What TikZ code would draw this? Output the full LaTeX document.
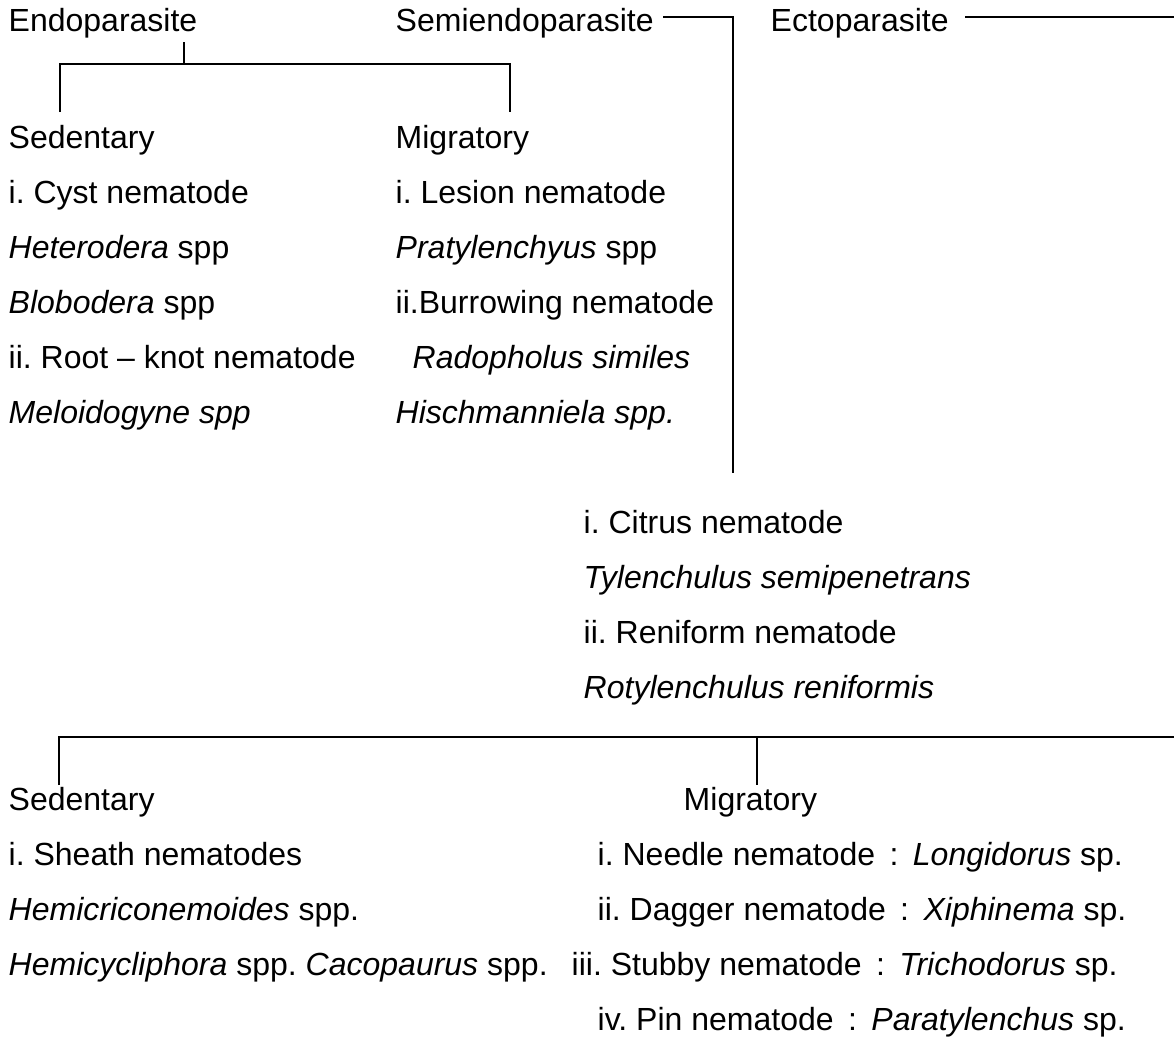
\documentclass[tikz,border=0pt]{standalone}
\usepackage{fontspec}
\setmainfont{Liberation Sans}
\frenchspacing
\tikzset{every picture/.style={line width=1.1pt}}
\tikzset{lbl/.style={anchor=base west, inner sep=0pt, font=\fontsize{24}{28}\selectfont}}
\newcommand{\colsep}{\hspace{0.45em}:\hspace{0.45em}}

\begin{document}
\begin{tikzpicture}[x=0.75pt,y=0.75pt,yscale=-1,xscale=1]
		\path [use as bounding box] (0,0) rectangle (1174,1036); %page frame

		%junction points of the brackets
		\coordinate (endotop) at (184,42);
		\coordinate (endomid) at (184,64);
		\coordinate (endol) at (60,64);
		\coordinate (endor) at (510,64);
		\coordinate (endolb) at (60,112);
		\coordinate (endorb) at (510,112);
		\coordinate (semil) at (663,17);
		\coordinate (semic) at (733,17);
		\coordinate (semib) at (733,473);
		\coordinate (ectol) at (965,17);
		\coordinate (ector) at (1174,17);
		\coordinate (botl) at (59,737);
		\coordinate (botm) at (757,737);
		\coordinate (botr) at (1174,737);
		\coordinate (botlb) at (59,785);
		\coordinate (botmb) at (757,785);

		\draw (endotop) -- (endomid) ;
		\draw (endolb) -- (endol) -- (endor) -- (endorb) ;
		\draw (semil) -- (semic) -- (semib) ;
		\draw (ectol) -- (ector) ;
		\draw (botlb) -- (botl) -- (botr) ;
		\draw (botm) -- (botmb) ;

		%top row
		\draw (8,31) node [lbl] (endo) {Endoparasite};
		\draw (395,31) node [lbl] (semi) {Semiendoparasite};
		\draw (770,31) node [lbl] (ecto) {Ectoparasite};

		%endoparasites
		\draw (8,148) node [lbl] (endosed) {Sedentary};
		\draw (8,203) node [lbl] (cyst) {i. Cyst nematode};
		\draw (8,258) node [lbl] (hetero) {\textit{Heterodera} spp};
		\draw (8,313) node [lbl] (globo) {\textit{Blobodera} spp};
		\draw (8,368) node [lbl] (rootknot) {ii. Root -- knot nematode};
		\draw (8,423) node [lbl] (meloi) {\textit{Meloidogyne spp}};
		\draw (395,148) node [lbl] (endomig) {Migratory};
		\draw (395,203) node [lbl] (lesion) {i. Lesion nematode};
		\draw (395,258) node [lbl] (praty) {\textit{Pratylenchyus} spp};
		\draw (395,313) node [lbl] (burrow) {ii.Burrowing nematode};
		\draw (412,368) node [lbl] (rado) {\textit{Radopholus similes}};
		\draw (395,423) node [lbl] (hisch) {\textit{Hischmanniela spp.}};

		%semiendoparasites
		\draw (583,533) node [lbl] (citrus) {i. Citrus nematode};
		\draw (583,588) node [lbl] (tylen) {\textit{Tylenchulus semipenetrans}};
		\draw (583,643) node [lbl] (reni) {ii. Reniform nematode};
		\draw (583,698) node [lbl] (rotyl) {\textit{Rotylenchulus reniformis}};

		%ectoparasites
		\draw (8,810) node [lbl] (ectosed) {Sedentary};
		\draw (8,865) node [lbl] (sheath) {i. Sheath nematodes};
		\draw (8,920) node [lbl] (hemicri) {\textit{Hemicriconemoides} spp.};
		\draw (8,975) node [lbl] (hemicy) {\textit{Hemicycliphora} spp. \textit{Cacopaurus} spp.};
		\draw (683,810) node [lbl] (ectomig) {Migratory};
		\draw (597,865) node [lbl] (needle) {i. Needle nematode\colsep\textit{Longidorus} sp.};
		\draw (597,920) node [lbl] (dagger) {ii. Dagger nematode\colsep\textit{Xiphinema} sp.};
		\draw (571,975) node [lbl] (stubby) {iii. Stubby nematode\colsep\textit{Trichodorus} sp.};
		\draw (597,1030) node [lbl] (pin) {iv. Pin nematode\colsep\textit{Paratylenchus} sp.};

\end{tikzpicture}
\end{document}
